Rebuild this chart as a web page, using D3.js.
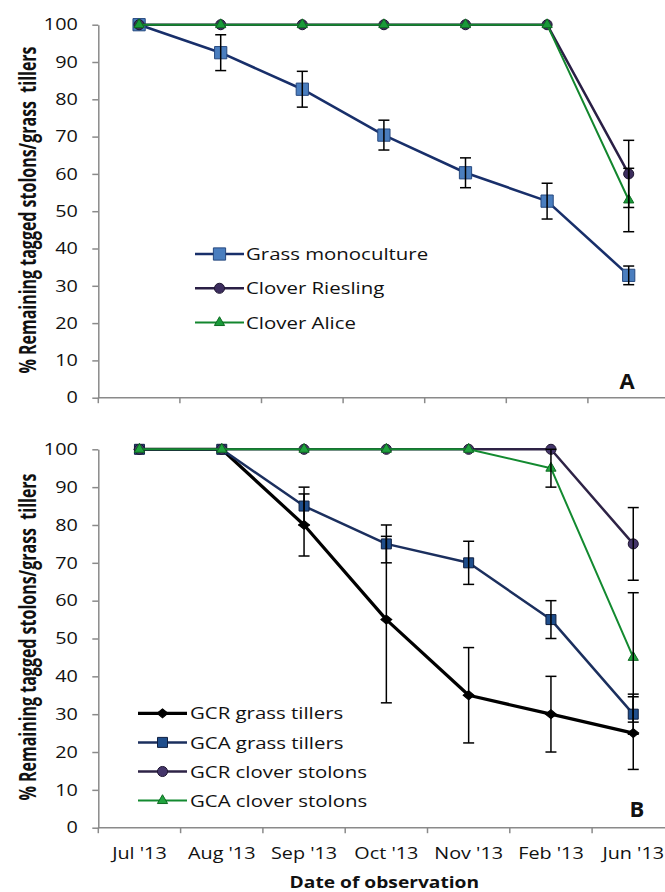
<!DOCTYPE html>
<html>
<head>
<meta charset="utf-8">
<script src="https://cdn.jsdelivr.net/npm/d3@7"></script>
<style>
  body { margin: 0; background: #fff; }
  svg { display: block; font-family: "Open Sans", sans-serif; }
</style>
</head>
<body>
<svg id="chart" width="665" height="892"></svg>
<script>
// --- Data ---
const months = ["Jul '13", "Aug '13", "Sep '13", "Oct '13", "Nov '13", "Feb '13", "Jun '13"];
const yTicks = [0, 10, 20, 30, 40, 50, 60, 70, 80, 90, 100];

// Panel A
const grassMono = [100, 92.5, 82.7, 70.4, 60.3, 52.7, 32.8];
const grassMonoErr = [0, 4.8, 4.8, 4, 4, 4.8, 2.5];
const cloverRiesling = [100, 100, 100, 100, 100, 100, 60];
const cloverRieslingErr = [0, 0, 0, 0, 0, 0, 9];
const cloverAlice = [100, 100, 100, 100, 100, 100, 53];
const cloverAliceErr = [0, 0, 0, 0, 0, 0, 8.5];

// Panel B
const gcrGrass = [100, 100, 80, 55, 35, 30, 25];
const gcrGrassErr = [0, 0, 8.2, 22, 12.6, 10, 9.6];
const gcaGrass = [100, 100, 85, 75, 70, 55, 30];
const gcaGrassErr = [0, 0, 5, 5, 5.7, 5, 5.3];
const gcrClover = [100, 100, 100, 100, 100, 100, 75];
const gcrCloverErr = [0, 0, 0, 0, 0, 0, 9.6];
const gcaClover = [100, 100, 100, 100, 100, 95, 45];
const gcaCloverErr = [0, 0, 0, 0, 0, 5, 17.1];

// --- Setup ---
const svg = d3.select('#chart');
const axisColor = '#8a8a8a';
const sx = 1.2; // horizontal stretch of the text, like the source image

function markerPath(type, size) {
    if (type === 'square') return d3.symbol(d3.symbolSquare, size)();
    if (type === 'circle') return d3.symbol(d3.symbolCircle, size)();
    if (type === 'triangle') return d3.symbol(d3.symbolTriangle, size)();
    return d3.symbol(d3.symbolSquare, size)();
}

function addMarker(g, s, cx, cy) {
    const m = g.append('path')
        .attr('d', markerPath(s.marker, s.size))
        .attr('fill', s.fill)
        .attr('stroke', s.stroke)
        .attr('stroke-width', 1);
    if (s.marker === 'diamond') {
        m.attr('transform', `translate(${cx},${cy}) scale(1.1,0.9) rotate(45)`);
    } else {
        m.attr('transform', `translate(${cx},${cy})`);
    }
}

function drawPanel(p) {
    const x = d3.scaleBand().domain(months).range([p.x0, p.x1]);
    const y = d3.scaleLinear().domain([0, 100]).range([p.yBottom, p.yTop]);
    const bw = x.bandwidth();
    const cx = i => x(months[i]) + bw / 2;
    const g = svg.append('g');

    // y axis
    const yAxis = g.append('g')
        .attr('transform', `translate(${p.x0},0)`)
        .call(d3.axisLeft(y).tickValues(yTicks).tickSizeInner(6).tickSizeOuter(0));
    yAxis.select('.domain').attr('stroke', axisColor).attr('stroke-width', 1.5);
    yAxis.selectAll('.tick line').attr('stroke', axisColor).attr('stroke-width', 1.5);
    yAxis.selectAll('.tick text')
        .attr('x', -20.5 / sx)
        .attr('transform', `scale(${sx},1)`)
        .attr('font-family', '"Open Sans", sans-serif')
        .attr('font-size', 16.5)
        .attr('fill', '#111');

    // x axis with ticks on band edges
    g.append('line')
        .attr('x1', p.x0).attr('x2', p.x1)
        .attr('y1', p.yBottom).attr('y2', p.yBottom)
        .attr('stroke', axisColor).attr('stroke-width', 1.5);
    const edges = months.map(m => x(m)).concat([p.x1]);
    g.selectAll('.xtick').data(edges).enter().append('line')
        .attr('x1', d => d).attr('x2', d => d)
        .attr('y1', p.yBottom).attr('y2', p.yBottom + 5.5)
        .attr('stroke', axisColor).attr('stroke-width', 1.5);

    if (p.showLabels) {
        g.selectAll('.xlabel').data(months).enter().append('text')
            .attr('transform', d => `translate(${x(d) + bw / 2},859) scale(${sx},1)`)
            .attr('text-anchor', 'middle')
            .attr('font-size', 16.5)
            .attr('fill', '#111')
            .text(d => d);
        svg.append('text')
            .attr('transform', `translate(${(p.x0 + p.x1) / 2 - 2},888) scale(${sx},1)`)
            .attr('text-anchor', 'middle')
            .attr('font-size', 16)
            .attr('font-weight', 'bold')
            .attr('fill', '#111')
            .text('Date of observation');
    }

    // y title
    svg.append('text')
        .attr('transform', `translate(36,${p.titleY}) scale(1.45,1) rotate(-90)`)
        .attr('text-anchor', 'middle')
        .attr('font-size', 16)
        .attr('font-weight', 'bold')
        .attr('fill', '#111')
        .text('% Remaining tagged stolons/grass\u00a0 tillers');

    // lines + markers
    const line = d3.line().x((d, i) => cx(i)).y(d => y(d));
    p.series.forEach(s => {
        g.append('path')
            .datum(s.values)
            .attr('fill', 'none')
            .attr('stroke', s.color)
            .attr('stroke-width', s.width)
            .attr('stroke-linejoin', 'round')
            .attr('d', line);
        s.values.forEach((v, i) => addMarker(g, s, cx(i), y(v)));
    });

    // error bars
    p.series.forEach(s => {
        s.values.forEach((v, i) => {
            const e = s.errors[i];
            if (!e) return;
            const xx = cx(i);
            g.append('line')
                .attr('x1', xx).attr('x2', xx)
                .attr('y1', y(Math.min(100, v + e))).attr('y2', y(v - e))
                .attr('stroke', '#000').attr('stroke-width', 1.5);
            [v + e, v - e].forEach(val => {
                if (val > 100) return;
                g.append('line')
                    .attr('x1', xx - 5.5).attr('x2', xx + 5.5)
                    .attr('y1', y(val)).attr('y2', y(val))
                    .attr('stroke', '#000').attr('stroke-width', 1.5);
            });
        });
    });

    // legend
    p.series.forEach((s, k) => {
        const ly = p.legend.y + k * p.legend.step;
        g.append('line')
            .attr('x1', p.legend.x0).attr('x2', p.legend.x1)
            .attr('y1', ly).attr('y2', ly)
            .attr('stroke', s.color).attr('stroke-width', s.width);
        addMarker(g, s, (p.legend.x0 + p.legend.x1) / 2, ly);
        g.append('text')
            .attr('transform', `translate(${p.legend.tx},${ly}) scale(${sx},1)`)
            .attr('dy', '0.36em')
            .attr('font-size', 17)
            .attr('fill', '#111')
            .text(s.name);
    });

    // panel letter
    svg.append('text')
        .attr('x', p.letterX).attr('y', p.letterY)
        .attr('text-anchor', 'middle')
        .attr('font-size', 22)
        .attr('font-weight', 'bold')
        .attr('fill', '#111')
        .text(p.letter);
}

// --- Panels ---
drawPanel({
    x0: 98.3, x1: 669.5, yTop: 24.7, yBottom: 397.7,
    titleY: 210, showLabels: false,
    letter: 'A', letterX: 627, letterY: 388.5,
    legend: { x0: 195, x1: 244, tx: 246, y: 254, step: 34.3 },
    series: [
        { name: 'Grass monoculture', values: grassMono, errors: grassMonoErr,
          color: '#182f6a', width: 2.6, marker: 'square', size: 150, fill: '#4a7ebf', stroke: '#27497f' },
        { name: 'Clover Riesling', values: cloverRiesling, errors: cloverRieslingErr,
          color: '#2a1f45', width: 2.5, marker: 'circle', size: 80, fill: '#3c2d5e', stroke: '#1e1530' },
        { name: 'Clover Alice', values: cloverAlice, errors: cloverAliceErr,
          color: '#13862e', width: 2, marker: 'triangle', size: 45, fill: '#1a9a3a', stroke: '#0e6b22' }
    ]
});

drawPanel({
    x0: 98.3, x1: 674.4, yTop: 449.3, yBottom: 827.7,
    titleY: 637, showLabels: true,
    letter: 'B', letterX: 637, letterY: 816.5,
    legend: { x0: 138, x1: 187, tx: 190, y: 713.3, step: 29.1 },
    series: [
        { name: 'GCR grass tillers', values: gcrGrass, errors: gcrGrassErr,
          color: '#000000', width: 3.2, marker: 'diamond', size: 50, fill: '#000', stroke: '#000' },
        { name: 'GCA grass tillers', values: gcaGrass, errors: gcaGrassErr,
          color: '#1b2f5e', width: 2.5, marker: 'square', size: 100, fill: '#1f4e8c', stroke: '#0f1f40' },
        { name: 'GCR clover stolons', values: gcrClover, errors: gcrCloverErr,
          color: '#2e2346', width: 2.5, marker: 'circle', size: 80, fill: '#44356a', stroke: '#1e1530' },
        { name: 'GCA clover stolons', values: gcaClover, errors: gcaCloverErr,
          color: '#138a30', width: 2, marker: 'triangle', size: 45, fill: '#21a33f', stroke: '#0e6b22' }
    ]
});
</script>
</body>
</html>
